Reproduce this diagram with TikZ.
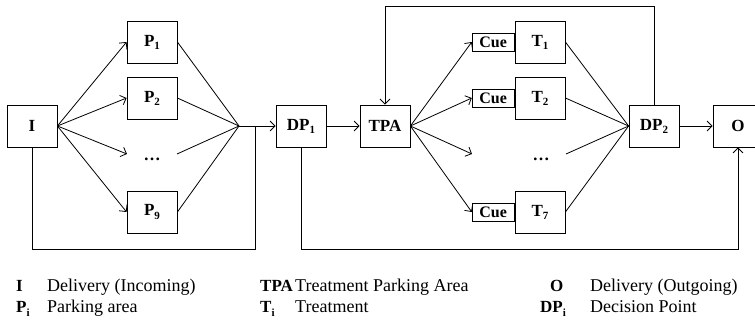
\documentclass[tikz,border=0pt]{standalone}
\usepackage{fontspec}
\setmainfont{Liberation Serif}
\usetikzlibrary{arrows.meta}
\newcommand{\lowsub}[1]{\raisebox{-0.4ex}{\fontsize{11}{12}\selectfont #1}}
\begin{document}
\begin{tikzpicture}[x=1pt,y=-1pt,
  box/.style={draw, line width=0.8pt, minimum width=50pt, minimum height=42pt, inner sep=0pt, font=\fontsize{17}{20}\selectfont\bfseries},
  cuebox/.style={draw, line width=0.8pt, minimum width=42pt, minimum height=18pt, inner sep=0pt, font=\fontsize{16}{18}\selectfont\bfseries},
  conn/.style={line width=0.8pt},
  arr/.style={conn, -{Straight Barb[length=5pt,width=10pt]}},
  dotsnode/.style={inner sep=0pt, font=\fontsize{17}{20}\selectfont\bfseries},
  legsym/.style={anchor=base west, inner sep=0pt, font=\fontsize{17}{20}\selectfont\bfseries},
  legtxt/.style={anchor=base west, inner sep=0pt, font=\fontsize{18}{20}\selectfont}]
\useasboundingbox (0,0) rectangle (755,328);

% main boxes
\node[box] (I) at (32,126) {I};
\node[box] (P1) at (152,42) {P\lowsub{1}};
\node[box] (P2) at (152,98) {P\lowsub{2}};
\node[dotsnode] (pd) at (152,159) {…};
\node[box] (P9) at (152,212) {P\lowsub{9}};
\node[box] (DP1) at (301,126) {DP\lowsub{1}};
\node[box] (TPA) at (385,126) {TPA};
\node[box] (T1) at (540,42) {T\lowsub{1}};
\node[box] (T2) at (540,98) {T\lowsub{2}};
\node[dotsnode] (td) at (541,159) {…};
\node[box] (T7) at (540,212) {T\lowsub{7}};
\node[cuebox, anchor=east] (C1) at (T1.west) {Cue};
\node[cuebox, anchor=east] (C2) at (T2.west) {Cue};
\node[cuebox, anchor=east] (C7) at (T7.west) {Cue};
\node[box] (DP2) at (654,126) {DP\lowsub{2}};
\node[box] (O) at (738,126) {O};

% helper coordinates
\coordinate (pin) at (127,154);
\coordinate (pout) at (177,154);
\coordinate (J) at (239,126);
\coordinate (tin) at (472,154);
\coordinate (tout) at (566,154);

% I to parking
\draw[arr] (I.east) -- (P1.west);
\draw[arr] (I.east) -- (P2.west);
\draw[arr] (I.east) -- (pin);
\draw[arr] (I.east) -- (P9.west);
% parking to junction
\draw[conn] (P1.east) -- (J);
\draw[conn] (P2.east) -- (J);
\draw[conn] (pout) -- (J);
\draw[conn] (P9.east) -- (J);
\draw[arr] (J) -- (DP1.west);
% bypass from I
\draw[conn] (I.south) -- (32,249) -- (255,249) -- (255,126);
% DP1 to TPA
\draw[arr] (DP1.east) -- (TPA.west);
% TPA to cues
\draw[arr] (TPA.east) -- (C1.west);
\draw[arr] (TPA.east) -- (C2.west);
\draw[arr] (TPA.east) -- (tin);
\draw[arr] (TPA.east) -- (C7.west);
% treatments to DP2
\draw[conn] (T1.east) -- (DP2.west);
\draw[conn] (T2.east) -- (DP2.west);
\draw[conn] (tout) -- (DP2.west);
\draw[conn] (T7.east) -- (DP2.west);
% loop back
\draw[arr] (DP2.north) -- (654,6) -- (385,6) -- (TPA.north);
% DP2 to O
\draw[arr] (DP2.east) -- (O.west);
% DP1 bypass to O
\draw[arr] (DP1.south) -- (301,249) -- (738,249) -- (O.south);

% legend
\node[legsym] (lI) at (16,292) {I};
\node[legtxt] (tI) at (47,292) {Delivery (Incoming)};
\node[legsym] (lP) at (16,313) {P\lowsub{i}};
\node[legtxt] (tP) at (47,313) {Parking area};
\node[legsym] (lTPA) at (260,292) {TPA};
\node[legtxt] (tTPA) at (295,292) {Treatment Parking Area};
\node[legsym] (lT) at (260,313) {T\lowsub{i}};
\node[legtxt] (tT) at (295,313) {Treatment};
\node[legsym] (lO) at (550,292) {O};
\node[legtxt] (tO) at (590,292) {Delivery (Outgoing)};
\node[legsym] (lDP) at (540,313) {DP\lowsub{i}};
\node[legtxt] (tDP) at (590,313) {Decision Point};
\end{tikzpicture}
\end{document}
